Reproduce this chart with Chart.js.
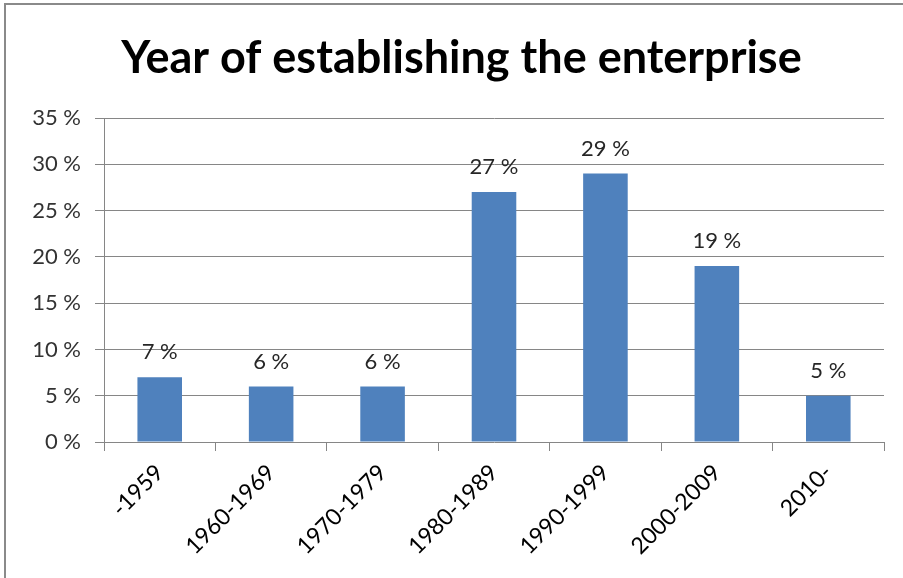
<!DOCTYPE html>
<html>
<head>
<meta charset="utf-8">
<script src="https://cdn.jsdelivr.net/npm/chart.js@4/dist/chart.umd.min.js"></script>
<style>
    html, body { margin: 0; padding: 0; background: #fff; }
    #wrap { position: relative; width: 903px; height: 578px; }
    #frame {
        position: absolute; left: 4px; top: 3px; right: 0; bottom: 0;
        border-top: 2px solid #8a8a8a; border-left: 2px solid #8a8a8a;
        pointer-events: none;
    }
</style>
</head>
<body>
<div id="wrap">
    <canvas id="yearChart" width="903" height="578"></canvas>
    <div id="frame"></div>
</div>
<script>
// Data
const periods = ['-1959', '1960-1969', '1970-1979', '1980-1989', '1990-1999', '2000-2009', '2010-'];
const shares = [7, 6, 6, 27, 29, 19, 5];
const yTicks = [0, 5, 10, 15, 20, 25, 30, 35];

const FONT = 'Lato, "Liberation Sans", sans-serif';
const TITLE = 'Year of establishing the enterprise';

// Judul digambar sendiri, sedikit di kanan tengah canvas
const centeredTitle = {
    id: 'centeredTitle',
    afterDraw(chart) {
        const ctx = chart.ctx;
        ctx.save();
        ctx.font = 'bold 45px ' + FONT;
        ctx.fillStyle = '#000';
        ctx.textAlign = 'center';
        ctx.textBaseline = 'middle';
        ctx.fillText(TITLE, chart.width / 2 + 10, 58);
        ctx.restore();
    }
};

// Label di atas batang
const barLabels = {
    id: 'barLabels',
    afterDatasetsDraw(chart) {
        const ctx = chart.ctx;
        const meta = chart.getDatasetMeta(0);
        ctx.save();
        ctx.font = '22px ' + FONT;
        ctx.fillStyle = '#262626';
        ctx.textAlign = 'center';
        ctx.textBaseline = 'middle';
        meta.data.forEach((bar, i) => {
            ctx.fillText(shares[i] + ' %', bar.x, bar.y - 25);
        });
        ctx.restore();
    }
};

new Chart(document.getElementById('yearChart'), {
    type: 'bar',
    data: {
        labels: periods,
        datasets: [{
            data: shares,
            backgroundColor: '#4F81BD',
            barPercentage: 0.4,
            categoryPercentage: 1.0
        }]
    },
    options: {
        responsive: false,
        animation: false,
        layout: { padding: { left: 0, right: 19, top: 118, bottom: 0 } },
        plugins: {
            legend: { display: false },
            tooltip: { enabled: false },
            title: { display: false }
        },
        scales: {
            x: {
                offset: true,
                grid: {
                    offset: true,
                    drawOnChartArea: false,
                    drawTicks: true,
                    tickLength: 9,
                    color: '#868686'
                },
                border: { display: false },
                ticks: {
                    maxRotation: 45,
                    minRotation: 45,
                    padding: 8,
                    color: '#000',
                    font: { family: FONT, size: 23 }
                },
                afterFit(scale) { scale.height = 578 - 442; }
            },
            y: {
                min: 0,
                max: 35,
                afterBuildTicks(scale) {
                    scale.ticks = yTicks.map(v => ({ value: v }));
                },
                grid: {
                    color: '#868686',
                    tickLength: 9,
                    lineWidth: 1
                },
                border: { display: true, color: '#868686' },
                ticks: {
                    padding: 14,
                    color: '#333',
                    font: { family: FONT, size: 22 },
                    callback: v => v + ' %'
                },
                afterFit(scale) { scale.width = 104; }
            }
        }
    },
    plugins: [barLabels, centeredTitle]
});
</script>
</body>
</html>
